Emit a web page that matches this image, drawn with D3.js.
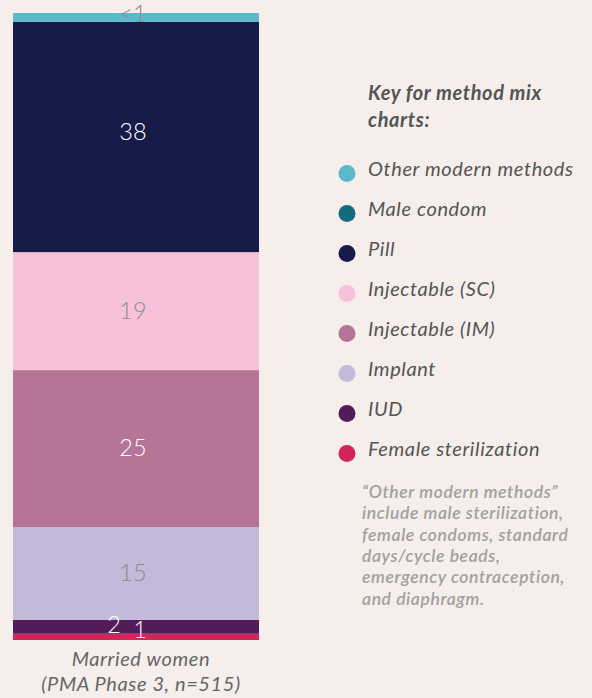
<!DOCTYPE html>
<html>
<head>
<meta charset="utf-8">
<script src="https://cdn.jsdelivr.net/npm/d3@7"></script>
<style>
  body { margin: 0; background: #f5eeeb; }
  svg { display: block; font-family: Lato, "Open Sans", sans-serif; }
</style>
</head>
<body>
<div id="chart"></div>
<script>
var width = 592;
var height = 698;

// Data, bottom segment first
var methods = ["Female sterilization", "IUD", "Implant", "Injectable (IM)", "Injectable (SC)", "Pill", "Male condom", "Other modern methods"];
var shares = [1.0, 2.2, 14.8, 25.0, 18.8, 36.7, 0, 1.4];
var shareLabels = ["1", "2", "15", "25", "19", "38", "", "<1"];
var colors = ["#d2265a", "#521b5a", "#c3b9d8", "#b57596", "#f7c1da", "#171b4a", "#136b80", "#5bbac9"];
var labelColors = ["#ffffff", "#ffffff", "#8c8c8c", "#ffffff", "#8c8c8c", "#ffffff", "#ffffff", "#8c8c8c"];

var groupLines = ["Married women", "(PMA Phase 3, n=515)"];
var keyTitle = ["Key for method mix", "charts:"];
var noteLines = ["\u201cOther modern methods\u201d", "include male sterilization,", "female condoms, standard", "days/cycle beads,", "emergency contraception,", "and diaphragm."];

var BAR_LEFT = 13, BAR_RIGHT = 259, BAR_TOP = 13, BAR_BOTTOM = 640;

var svg = d3.select("#chart").append("svg")
    .attr("width", width)
    .attr("height", height);

svg.append("rect").attr("width", width).attr("height", height).attr("fill", "#f5eeeb");

// Stack the shares
var stackData = [];
var acc = 0;
shares.forEach(function(v, i) {
    stackData.push({ name: methods[i], y0: acc, y1: acc + v, label: shareLabels[i], i: i });
    acc += v;
});

var scaleY = d3.scaleLinear().domain([0, acc]).range([BAR_BOTTOM, BAR_TOP]);
var scaleX = d3.scaleBand().domain(["married"]).range([BAR_LEFT, BAR_RIGHT]).padding(0);

var bar = svg.append("g");

bar.selectAll("rect.seg")
    .data(stackData.filter(function(d) { return d.y1 > d.y0; }))
    .enter().append("rect")
    .attr("class", "seg")
    .attr("x", scaleX("married"))
    .attr("width", scaleX.bandwidth())
    .attr("y", function(d) { return scaleY(d.y1); })
    .attr("height", function(d) { return scaleY(d.y0) - scaleY(d.y1); })
    .attr("fill", function(d) { return colors[d.i]; });

// Small segments get their labels nudged so they don't sit on each other
function labelX(d) {
    var cx = scaleX("married") + scaleX.bandwidth() / 2;
    if (d.name == "IUD") return cx - 22;
    if (d.name == "Female sterilization") return cx + 4;
    return cx - 3;
}
function labelY(d) {
    var mid = (scaleY(d.y0) + scaleY(d.y1)) / 2;
    if (d.name == "Other modern methods") return mid + 5;
    if (d.name == "IUD") return mid + 6;
    if (d.name == "Female sterilization") return mid + 1;
    if (d.name == "Pill") return mid + 3;
    return mid + 7.5;
}

bar.selectAll("text.val")
    .data(stackData.filter(function(d) { return d.label != ""; }))
    .enter().append("text")
    .attr("class", "val")
    .attr("x", labelX)
    .attr("y", labelY)
    .attr("text-anchor", "middle")
    .attr("font-size", 23.5)
    .attr("font-weight", 300)
    .attr("fill", function(d) { return labelColors[d.i]; })
    .text(function(d) { return d.label; });

// Category label under the bar
svg.append("g").selectAll("text")
    .data(groupLines)
    .enter().append("text")
    .attr("x", 141)
    .attr("y", function(d, i) { return 666 + i * 25; })
    .attr("text-anchor", "middle")
    .attr("font-size", 20)
    .attr("letter-spacing", 0.6)
    .attr("font-style", "italic")
    .attr("fill", "#666666")
    .text(function(d) { return d; });

// Key
var key = svg.append("g");

key.selectAll("text.title")
    .data(keyTitle)
    .enter().append("text")
    .attr("class", "title")
    .attr("x", 368)
    .attr("y", function(d, i) { return 100 + i * 27; })
    .attr("font-size", 20)
    .attr("letter-spacing", 0.6)
    .attr("font-weight", 700)
    .attr("font-style", "italic")
    .attr("fill", "#555555")
    .text(function(d) { return d; });

var keyOrder = methods.slice().reverse();
var keyY = d3.scalePoint().domain(keyOrder).range([176, 456]);

var items = key.selectAll("g.item")
    .data(keyOrder)
    .enter().append("g")
    .attr("class", "item")
    .attr("transform", function(d) { return "translate(0," + keyY(d) + ")"; });

items.append("circle")
    .attr("cx", 347)
    .attr("cy", -2.5)
    .attr("r", 8.5)
    .attr("fill", function(d) { return colors[methods.indexOf(d)]; });

items.append("text")
    .attr("x", 368)
    .attr("y", 0)
    .attr("font-size", 20)
    .attr("letter-spacing", 0.6)
    .attr("font-style", "italic")
    .attr("fill", "#555555")
    .text(function(d) { return d; });

key.selectAll("text.note")
    .data(noteLines)
    .enter().append("text")
    .attr("class", "note")
    .attr("x", 362)
    .attr("y", function(d, i) { return 498 + i * 21.3; })
    .attr("font-size", 17.5)
    .attr("letter-spacing", 0.6)
    .attr("font-weight", 600)
    .attr("font-style", "italic")
    .attr("fill", "#a3a09e")
    .text(function(d) { return d; });
</script>
</body>
</html>
